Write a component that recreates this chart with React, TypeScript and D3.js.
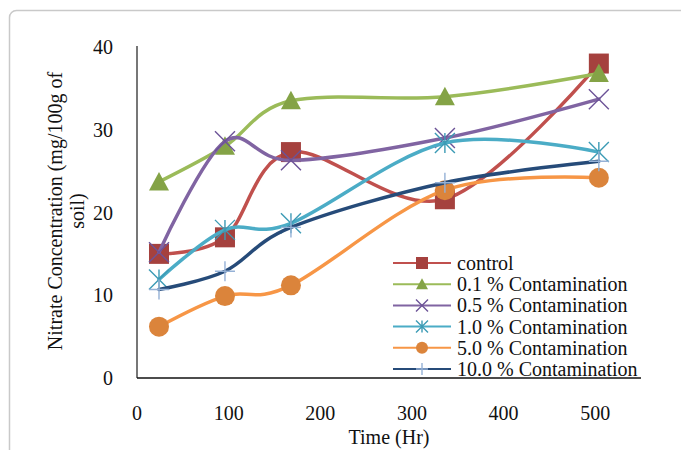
import React from "react";
import * as d3 from "d3";

const hours = [24, 96, 168, 336, 504];
const seriesNames = [
  "control",
  "0.1 % Contamination",
  "0.5 % Contamination",
  "1.0 % Contamination",
  "5.0 % Contamination",
  "10.0 % Contamination",
];
const controlVals = [15.0, 17.0, 27.3, 21.6, 38.0];
const c01Vals = [23.7, 28.0, 33.5, 34.0, 36.8];
const c05Vals = [15.2, 28.6, 26.3, 29.0, 33.7];
const c10Vals = [11.9, 17.9, 18.7, 28.4, 27.3];
const c50Vals = [6.2, 9.9, 11.2, 22.7, 24.2];
const c100Vals = [10.7, 12.9, 18.2, 23.6, 26.2];
const xTicks = [0, 100, 200, 300, 400, 500];
const yTicks = [0, 10, 20, 30, 40];

const allVals = [controlVals, c01Vals, c05Vals, c10Vals, c50Vals, c100Vals];
const lineColors = ["#C0504D", "#9BBB59", "#8064A2", "#4BACC6", "#F79646", "#264B79"];
const markerColors = ["#A5413E", "#84A346", "#6C5397", "#3C9BB5", "#DB843B", "#95B1D6"];
const markerTypes = ["square", "triangle", "x", "asterisk", "circle", "plus"];

const FONT = "'Liberation Serif', 'Times New Roman', serif";

function Marker({ type, x, y, s, color }: { type: string; x: number; y: number; s: number; color: string }) {
  const h = s / 2;
  if (type === "square") return <rect x={x - h} y={y - h} width={s} height={s} fill={color} />;
  if (type === "triangle")
    return <path d={`M${x},${y - h}L${x + h},${y + h * 0.85}L${x - h},${y + h * 0.85}Z`} fill={color} />;
  if (type === "circle") return <circle cx={x} cy={y} r={h} fill={color} />;
  if (type === "x")
    return (
      <path d={`M${x - h},${y - h}L${x + h},${y + h}M${x - h},${y + h}L${x + h},${y - h}`} stroke={color} strokeWidth={1.4} fill="none" />
    );
  if (type === "asterisk")
    return (
      <path
        d={`M${x - h},${y - h}L${x + h},${y + h}M${x - h},${y + h}L${x + h},${y - h}M${x},${y - h}L${x},${y + h}`}
        stroke={color}
        strokeWidth={1.4}
        fill="none"
      />
    );
  return <path d={`M${x - h},${y}L${x + h},${y}M${x},${y - h}L${x},${y + h}`} stroke={color} strokeWidth={1.4} fill="none" />;
}

export default function App() {
  const x = d3.scaleLinear().domain([0, 550]).range([137, 641]);
  const y = d3.scaleLinear().domain([0, 40]).range([378, 47]);
  const line = d3
    .line<[number, number]>()
    .x((d) => x(d[0]))
    .y((d) => y(d[1]))
    .curve(d3.curveCardinal.tension(0));

  const legendY0 = 263;
  const legendStep = 21.2;

  return (
    <svg
      width={681}
      height={450}
      style={{ position: "absolute", left: 0, top: 0, background: "#fff" }}
      fontFamily={FONT}
    >
      <rect x={9.5} y={10.5} width={720} height={500} rx={7} fill="#fff" stroke="#c9c9c9" strokeWidth={1.5} />

      {/* axes */}
      <line x1={137} x2={137} y1={y(40) - 1} y2={y(0)} stroke="#4a4a4a" strokeWidth={1.5} />
      <line x1={137} x2={x(550)} y1={y(0)} y2={y(0)} stroke="#111" strokeWidth={1.5} />

      {yTicks.map((t) => (
        <text key={"y" + t} x={113} y={y(t)} dy="0.35em" textAnchor="end" fontSize={20} fill="#111">
          {t}
        </text>
      ))}
      {xTicks.map((t) => (
        <text key={"x" + t} x={x(t)} y={413} dy="0.35em" textAnchor="middle" fontSize={20} fill="#111">
          {t}
        </text>
      ))}
      <text x={389} y={437} dy="0.35em" textAnchor="middle" fontSize={20} fill="#111">
        Time (Hr)
      </text>
      <text transform="translate(62,211) rotate(-90)" textAnchor="middle" fontSize={20} fill="#111">
        Nitrate Concentration (mg/100g of
      </text>
      <text transform="translate(84,211) rotate(-90)" textAnchor="middle" fontSize={20} fill="#111">
        soil)
      </text>

      {/* series */}
      {allVals.map((vals, i) => {
        const pts = hours.map((h, j) => [h, vals[j]] as [number, number]);
        return (
          <g key={"s" + i}>
            <path d={line(pts) || ""} fill="none" stroke={lineColors[i]} strokeWidth={3.5} strokeLinecap="round" />
            {pts.map((p, j) => (
              <Marker key={j} type={markerTypes[i]} x={x(p[0])} y={y(p[1])} s={20} color={markerColors[i]} />
            ))}
          </g>
        );
      })}

      {/* legend */}
      {seriesNames.map((name, i) => {
        const ly = legendY0 + i * legendStep;
        return (
          <g key={"l" + i}>
            <line x1={393} x2={451} y1={ly} y2={ly} stroke={lineColors[i]} strokeWidth={2} />
            <Marker type={markerTypes[i]} x={422} y={ly} s={12} color={markerColors[i]} />
            <text x={457} y={ly} dy="0.35em" fontSize={20} fill="#111">
              {name}
            </text>
          </g>
        );
      })}
    </svg>
  );
}
